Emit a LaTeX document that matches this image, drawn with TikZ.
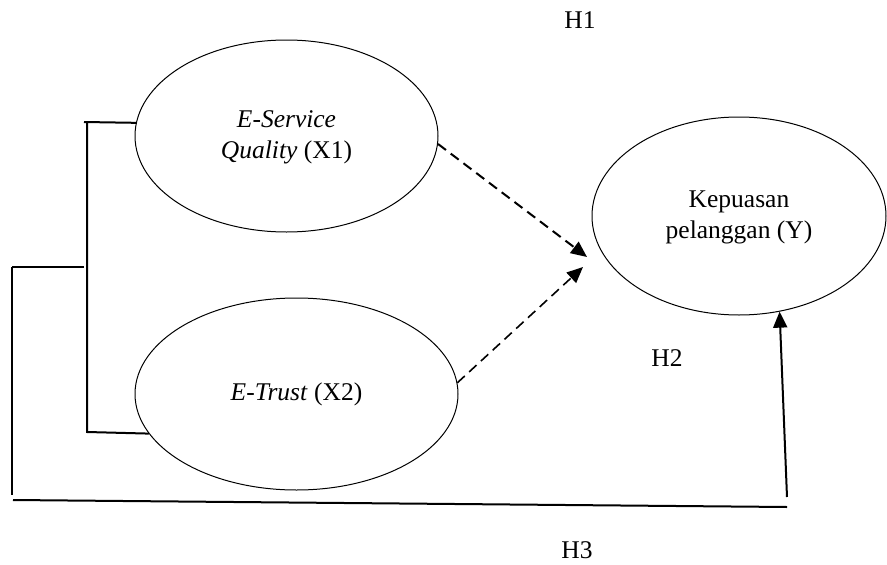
\documentclass[tikz,border=0pt]{standalone}
\usepackage{fontspec}
\setmainfont{Liberation Serif}
\usetikzlibrary{arrows.meta,shapes.geometric,calc}
\begin{document}
\begin{tikzpicture}[x=1pt,y=-1pt,
  txt/.style={font=\fontsize{25.5}{33}\selectfont, align=center},
  lat/.style={ellipse, draw, line width=1pt, inner sep=0pt, txt},
  brk/.style={line width=2pt},
  dsh/.style={line width=2pt, dash pattern=on 10pt off 6pt, -{Triangle[length=16pt,width=14pt]}},
  sol/.style={line width=2pt, -{Triangle[length=16pt,width=14pt]}}]
\useasboundingbox (0,0) rectangle (887,565);
\node[lat, minimum width=303pt, minimum height=192pt] (x1) at (286.5,136) {\raisebox{-4pt}{\begin{tabular}{@{}c@{}}\textit{E-Service}\\[-2pt]\textit{Quality} (X1)\end{tabular}}};
\node[lat, minimum width=323pt, minimum height=192pt] (x2) at (296.5,394) {\textit{E-Trust} (X2)};
\node[lat, minimum width=294pt, minimum height=198pt] (y) at (739,216) {\raisebox{-4pt}{\begin{tabular}{@{}c@{}}Kepuasan\\[-2pt]pelanggan (Y)\end{tabular}}};
\node[txt] (h1) at (580,20) {H1};
\node[txt] (h2) at (667,358) {H2};
\node[txt] (h3) at (577,550) {H3};
% dashed arrows
\coordinate (t1) at (587,257);
\coordinate (t2) at (583,267);
\draw[dsh] (x1.-3) -- (t1);
\draw[dsh, line width=1.6pt] (x2.4) -- (t2);
% bracket
\coordinate (a1) at (84,122);
\coordinate (a2) at (87,432);
\coordinate (o1) at (12,267);
\coordinate (o2) at (12,495);
\coordinate (b1) at (13,500);
\coordinate (b2) at (787,507);
\coordinate (s1) at (787,497);
\draw[brk] (a1) -- (x1.175);
\draw[brk] (87,121) -- (a2) -- (x2.195);
\draw[brk] (o1) -- (84,267);
\draw[brk] (o1) -- (o2);
\draw[brk] (b1) -- (b2);
\draw[sol] (s1) -- (y.-67);
\end{tikzpicture}
\end{document}
